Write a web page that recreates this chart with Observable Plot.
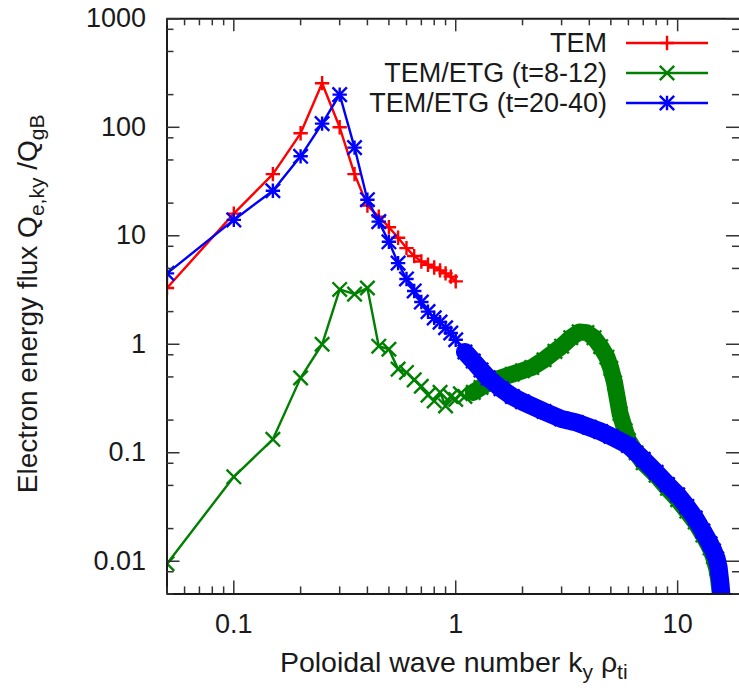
<!DOCTYPE html>
<html>
<head>
<meta charset="utf-8">
<script src="https://cdn.jsdelivr.net/npm/d3@7"></script>
<script src="https://cdn.jsdelivr.net/npm/@observablehq/plot@0.6"></script>
<style>
  html, body { margin: 0; padding: 0; background: #fff; overflow: hidden; }
  #chart { width: 739px; height: 693px; }
</style>
</head>
<body>
<div id="chart"></div>
<script>
// ---------- data ----------
const temKy = [0.05,0.1,0.15,0.2,0.25,0.3,0.35,0.4,0.45,0.5,0.55,0.6,0.65,0.7,0.75,0.8,0.85,0.9,0.95,1.0];
const temQ  = [3.3,16,37,88,255,100,37,19,15,12,9.6,7.7,6.5,5.8,5.4,5.1,4.8,4.5,4.2,3.8];

const etg812Ky = [0.05,0.1,0.15,0.2,0.25,0.3,0.35,0.4,0.45,0.5,0.55,0.6,0.65,0.7,0.75,0.8,0.85,0.9,0.95,1.0,1.05,1.1,1.2,1.3,1.4,1.5,1.6,1.8,2.0,2.2,2.5,2.8,3.0,3.3,3.6,3.9,4.2,4.5,4.8,5.0,5.2,5.5,5.8,6.0,6.5,7.0,8.0,9.0,10,11,12,13,14,14.5,15,15.3,15.6];
const etg812Q  = [0.0095,0.06,0.133,0.49,1.0,3.2,2.9,3.3,0.96,0.9,0.59,0.55,0.47,0.41,0.34,0.30,0.36,0.27,0.33,0.31,0.35,0.33,0.36,0.40,0.44,0.47,0.49,0.53,0.57,0.61,0.72,0.86,0.96,1.15,1.3,1.28,1.15,0.95,0.76,0.6,0.44,0.23,0.16,0.13,0.1,0.081,0.062,0.047,0.037,0.029,0.023,0.0175,0.0133,0.011,0.0086,0.0068,0.0048];

const etg2040Ky = [0.05,0.1,0.15,0.2,0.25,0.3,0.35,0.4,0.45,0.5,0.55,0.6,0.65,0.7,0.75,0.8,0.85,0.9,0.95,1.0,1.1,1.2,1.3,1.4,1.6,1.8,2.0,2.5,3.0,3.5,4.0,4.5,5.0,6.0,7.0,8.0,9.0,10,11,12,13,14,14.5,15,15.3,15.6,15.8];
const etg2040Q  = [4.5,14,26,54,108,200,65,21.5,13.5,8.8,5.6,4.0,3.1,2.45,2.0,1.75,1.6,1.42,1.27,1.1,0.85,0.70,0.58,0.49,0.39,0.33,0.295,0.24,0.205,0.19,0.172,0.157,0.142,0.117,0.087,0.066,0.051,0.041,0.032,0.025,0.019,0.0145,0.0125,0.0105,0.0088,0.0062,0.0045];

const seriesNames  = ["TEM", "TEM/ETG (t=8-12)", "TEM/ETG (t=20-40)"];
const seriesColors = ["#ff0000", "#008000", "#0000ff"];

const xTicks = [0.1, 1, 10];
const xTickLabels = ["0.1", "1", "10"];
const yTicks = [0.01, 0.1, 1, 10, 100, 1000];
const yTickLabels = ["0.01", "0.1", "1", "10", "100", "1000"];
const xMinorMultipliers = [2,3,4,5,6,7,8,9];
const yMinorMultipliers = [2,5,8];
const xDecades = [0.01, 0.1, 1, 10];
const yDecades = [0.001, 0.01, 0.1, 1, 10, 100];

// ---------- layout ----------
const W = 739, H = 693;
const mL = 166.5, mR = 0, mT = 18.3, mB = H - 593.4;
const plotW = W - mL - mR, plotH = H - mT - mB;
const xDomain = [0.05, 19.0];
const yDomain = [0.005, 1000];
const font = '"Liberation Sans", Arial, Helvetica, sans-serif';
const ink = "#1a1a1a";
const tickInk = "#333";
const lw = 2.4;          // series line width
const plusR = 4.7, timesR = 6.6;

const tem = temKy.map((k, i) => ({ky: k, q: temQ[i]}));
const etg812 = etg812Ky.map((k, i) => ({ky: k, q: etg812Q[i]}));
const etg2040 = etg2040Ky.map((k, i) => ({ky: k, q: etg2040Q[i]}));

const inX = v => v >= xDomain[0] && v <= xDomain[1];
const inY = v => v >= yDomain[0] && v <= yDomain[1];
const xMinor = xDecades.flatMap(d => xMinorMultipliers.map(m => m * d)).filter(inX);
const yMinor = yDecades.flatMap(d => yMinorMultipliers.map(m => m * d)).filter(inY);

const [red, green, blue] = seriesColors;
const pr = {x: "ky", y: "q", clip: true};

const plot = Plot.plot({
  width: W, height: H,
  marginLeft: mL, marginRight: mR, marginTop: mT, marginBottom: mB,
  style: {fontFamily: font, background: "#fff", color: ink, overflow: "hidden"},
  x: {type: "log", domain: xDomain},
  y: {type: "log", domain: yDomain},
  marks: [
    // TEM
    Plot.line(tem, {...pr, stroke: red, strokeWidth: lw}),
    Plot.dot(tem, {...pr, symbol: "plus", r: plusR, stroke: red, fill: "none", strokeWidth: lw}),
    // TEM/ETG t=8-12
    Plot.line(etg812, {...pr, stroke: green, strokeWidth: lw}),
    Plot.line(etg812.filter(d => d.ky >= 1.2), {...pr, stroke: green, strokeWidth: 17, strokeLinejoin: "round", strokeLinecap: "round"}),
    Plot.dot(etg812, {...pr, symbol: "times", r: timesR, stroke: green, fill: "none", strokeWidth: lw}),
    // TEM/ETG t=20-40
    Plot.line(etg2040, {...pr, stroke: blue, strokeWidth: lw}),
    Plot.line(etg2040.filter(d => d.ky >= 1.1), {...pr, stroke: blue, strokeWidth: 18, strokeLinejoin: "round", strokeLinecap: "round"}),
    Plot.dot(etg2040, {...pr, symbol: "plus", r: plusR, stroke: blue, fill: "none", strokeWidth: lw}),
    Plot.dot(etg2040, {...pr, symbol: "times", r: timesR, stroke: blue, fill: "none", strokeWidth: lw}),
    // frame (left, top, bottom)
    Plot.ruleX([xDomain[0]], {x: d => d, stroke: ink, strokeWidth: 2}),
    Plot.ruleY(yDomain, {y: d => d, stroke: ink, strokeWidth: 2}),
    // inward ticks, all four sides
    Plot.ruleX(xTicks, {x: d => d, insetTop: plotH - 13, stroke: tickInk, strokeWidth: 1.5}),
    Plot.ruleX(xTicks, {x: d => d, insetBottom: plotH - 13, stroke: tickInk, strokeWidth: 1.5}),
    Plot.ruleX(xMinor, {x: d => d, insetTop: plotH - 7, stroke: tickInk, strokeWidth: 1.5}),
    Plot.ruleX(xMinor, {x: d => d, insetBottom: plotH - 7, stroke: tickInk, strokeWidth: 1.5}),
    Plot.ruleY(yTicks, {y: d => d, insetRight: plotW - 13, stroke: tickInk, strokeWidth: 1.5}),
    Plot.ruleY(yTicks, {y: d => d, insetLeft: plotW - 13, stroke: tickInk, strokeWidth: 1.5}),
    Plot.ruleY(yMinor, {y: d => d, insetRight: plotW - 7, stroke: tickInk, strokeWidth: 1.5}),
    Plot.ruleY(yMinor, {y: d => d, insetLeft: plotW - 7, stroke: tickInk, strokeWidth: 1.5}),
    // tick labels
    Plot.axisX({ticks: xTicks, tickSize: 0, tickPadding: 20, fontSize: 27, fill: ink, label: null,
                tickFormat: d => xTickLabels[xTicks.indexOf(d)]}),
    Plot.axisY({ticks: yTicks, tickSize: 0, tickPadding: 21, fontSize: 27, fill: ink, label: null,
                tickFormat: d => yTickLabels[yTicks.indexOf(d)]})
  ]
});

document.getElementById("chart").appendChild(plot);

// ---------- axis titles with sub-scripts ----------
const svg = d3.select(plot);
const subSize = 21;

const xt = svg.append("text")
  .attr("x", (mL + W + 2) / 2).attr("y", 672)
  .attr("text-anchor", "middle").attr("fill", ink)
  .attr("font-family", font).attr("font-size", 28.5);
xt.append("tspan").text("Poloidal wave number k");
xt.append("tspan").attr("font-size", subSize).attr("dy", 7).text("y");
xt.append("tspan").attr("dy", -7).text(" ρ");
xt.append("tspan").attr("font-size", subSize).attr("dy", 7).text("ti");

const yt = svg.append("text")
  .attr("transform", `translate(37,${(mT + H - mB) / 2 - 2}) rotate(-90)`)
  .attr("text-anchor", "middle").attr("fill", ink)
  .attr("font-family", font).attr("font-size", 28);
yt.append("tspan").text("Electron energy flux Q");
yt.append("tspan").attr("font-size", subSize).attr("dy", 7).text("e,ky");
yt.append("tspan").attr("dy", -7).text(" /Q");
yt.append("tspan").attr("font-size", subSize).attr("dy", 7).text("gB");

// ---------- legend ----------
const leg = svg.append("g").attr("font-family", font).attr("font-size", 27).attr("fill", ink);
const plusPath = d3.symbol(d3.symbolPlus, Math.PI * plusR * plusR)();
const timesPath = d3.symbol(d3.symbolTimes, Math.PI * timesR * timesR)();
const legendSymbols = [[plusPath], [timesPath], [plusPath, timesPath]];
seriesNames.forEach((name, i) => {
  const cy = 43 + 30 * i;
  leg.append("text").attr("x", 607).attr("y", cy).attr("dy", "0.35em")
     .attr("text-anchor", "end").text(name);
  leg.append("line").attr("x1", 626).attr("x2", 708).attr("y1", cy).attr("y2", cy)
     .attr("stroke", seriesColors[i]).attr("stroke-width", lw);
  legendSymbols[i].forEach(p => {
    leg.append("path").attr("d", p).attr("transform", `translate(667,${cy})`)
       .attr("fill", "none").attr("stroke", seriesColors[i]).attr("stroke-width", lw);
  });
});
</script>
</body>
</html>
